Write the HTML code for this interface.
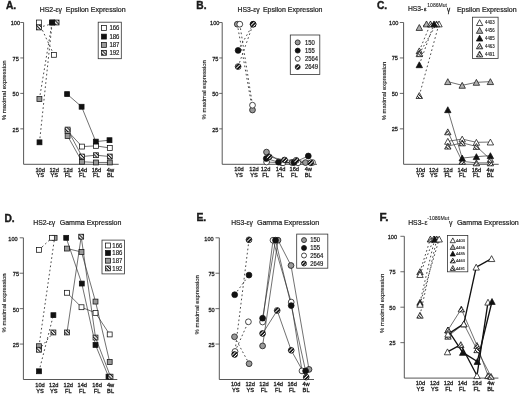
<!DOCTYPE html>
<html><head><meta charset="utf-8"><style>
html,body{margin:0;padding:0;background:#fff;}
body{width:520px;height:394px;overflow:hidden;}
svg{display:block;font-family:"Liberation Sans", sans-serif;filter:grayscale(1) blur(0.3px);}
</style></head><body>
<svg width="520" height="394" viewBox="0 0 520 394">
<defs>
<pattern id="hs" patternUnits="userSpaceOnUse" width="2.4" height="2.4" patternTransform="rotate(-45)">
<rect width="2.4" height="2.4" fill="#fff"/><rect width="1.05" height="2.4" fill="#111"/></pattern>
<pattern id="hc" patternUnits="userSpaceOnUse" width="2.5" height="2.5" patternTransform="rotate(45)">
<rect width="2.5" height="2.5" fill="#111"/><rect width="0.85" height="2.5" fill="#fff"/></pattern>
<pattern id="ht" patternUnits="userSpaceOnUse" width="2.2" height="2.2" patternTransform="rotate(45)">
<rect width="2.2" height="2.2" fill="#fff"/><rect width="0.9" height="2.2" fill="#222"/></pattern>
<pattern id="ht2" patternUnits="userSpaceOnUse" width="2.2" height="2.2" patternTransform="rotate(-45)">
<rect width="2.2" height="2.2" fill="#fff"/><rect width="0.9" height="2.2" fill="#222"/></pattern>
</defs>
<rect width="520" height="394" fill="#fff"/>
<text x="6.00" y="8.80" font-size="10" text-anchor="start" fill="#1a1a1a" stroke="#1a1a1a" stroke-width="0.4" font-weight="bold" textLength="10.20" lengthAdjust="spacingAndGlyphs">A.</text>
<text x="39.80" y="11.60" font-size="7" text-anchor="start" fill="#1a1a1a" stroke="#1a1a1a" stroke-width="0.2" textLength="22.20" lengthAdjust="spacingAndGlyphs">HS2-εγ</text>
<text x="65.70" y="11.60" font-size="7" text-anchor="start" fill="#1a1a1a" stroke="#1a1a1a" stroke-width="0.2" textLength="59.90" lengthAdjust="spacingAndGlyphs">Epsilon Expression</text>
<line x1="23.60" y1="22.50" x2="23.60" y2="164.30" stroke="#444" stroke-width="0.9"/>
<line x1="23.60" y1="164.30" x2="118.70" y2="164.30" stroke="#444" stroke-width="0.9"/>
<line x1="20.30" y1="22.50" x2="23.60" y2="22.50" stroke="#444" stroke-width="0.8"/>
<text x="20.10" y="25.48" font-size="6.16" text-anchor="end" fill="#1a1a1a" stroke="#1a1a1a" stroke-width="0.28" textLength="9.34" lengthAdjust="spacingAndGlyphs">100</text>
<line x1="20.30" y1="57.95" x2="23.60" y2="57.95" stroke="#444" stroke-width="0.8"/>
<text x="18.80" y="60.93" font-size="6.16" text-anchor="end" fill="#1a1a1a" stroke="#1a1a1a" stroke-width="0.28" textLength="6.23" lengthAdjust="spacingAndGlyphs">75</text>
<line x1="20.30" y1="93.40" x2="23.60" y2="93.40" stroke="#444" stroke-width="0.8"/>
<text x="18.80" y="96.38" font-size="6.16" text-anchor="end" fill="#1a1a1a" stroke="#1a1a1a" stroke-width="0.28" textLength="6.23" lengthAdjust="spacingAndGlyphs">50</text>
<line x1="20.30" y1="128.85" x2="23.60" y2="128.85" stroke="#444" stroke-width="0.8"/>
<text x="18.80" y="131.83" font-size="6.16" text-anchor="end" fill="#1a1a1a" stroke="#1a1a1a" stroke-width="0.28" textLength="6.23" lengthAdjust="spacingAndGlyphs">25</text>
<text x="0" y="0" font-size="6.1" stroke-width="0.15" stroke="#222" fill="#222" text-anchor="middle" textLength="60" lengthAdjust="spacingAndGlyphs" transform="translate(6.00,90.30) rotate(-90)">% maximal expression</text>
<text x="40.20" y="171.50" font-size="5.7" text-anchor="middle" fill="#1a1a1a" stroke="#1a1a1a" stroke-width="0.28">10d</text>
<text x="40.20" y="177.40" font-size="5.7" text-anchor="middle" fill="#1a1a1a" stroke="#1a1a1a" stroke-width="0.28">YS</text>
<text x="54.20" y="171.50" font-size="5.7" text-anchor="middle" fill="#1a1a1a" stroke="#1a1a1a" stroke-width="0.28">12d</text>
<text x="54.20" y="177.40" font-size="5.7" text-anchor="middle" fill="#1a1a1a" stroke="#1a1a1a" stroke-width="0.28">YS</text>
<text x="68.00" y="171.50" font-size="5.7" text-anchor="middle" fill="#1a1a1a" stroke="#1a1a1a" stroke-width="0.28">12d</text>
<text x="68.00" y="177.40" font-size="5.7" text-anchor="middle" fill="#1a1a1a" stroke="#1a1a1a" stroke-width="0.28">FL</text>
<text x="82.40" y="171.50" font-size="5.7" text-anchor="middle" fill="#1a1a1a" stroke="#1a1a1a" stroke-width="0.28">14d</text>
<text x="82.40" y="177.40" font-size="5.7" text-anchor="middle" fill="#1a1a1a" stroke="#1a1a1a" stroke-width="0.28">FL</text>
<text x="96.40" y="171.50" font-size="5.7" text-anchor="middle" fill="#1a1a1a" stroke="#1a1a1a" stroke-width="0.28">16d</text>
<text x="96.40" y="177.40" font-size="5.7" text-anchor="middle" fill="#1a1a1a" stroke="#1a1a1a" stroke-width="0.28">FL</text>
<text x="110.40" y="171.50" font-size="5.7" text-anchor="middle" fill="#1a1a1a" stroke="#1a1a1a" stroke-width="0.28">4w</text>
<text x="110.40" y="177.40" font-size="5.7" text-anchor="middle" fill="#1a1a1a" stroke="#1a1a1a" stroke-width="0.28">BL</text>
<line x1="39.40" y1="99.07" x2="52.10" y2="22.50" stroke="#4a4a4a" stroke-width="1.0" stroke-dasharray="1.7,2.5"/>
<line x1="38.90" y1="22.50" x2="53.90" y2="54.83" stroke="#4a4a4a" stroke-width="1.0" stroke-dasharray="1.7,2.5"/>
<line x1="39.00" y1="27.46" x2="56.60" y2="22.50" stroke="#4a4a4a" stroke-width="1.0" stroke-dasharray="1.7,2.5"/>
<line x1="39.50" y1="142.32" x2="52.20" y2="22.50" stroke="#4a4a4a" stroke-width="1.0" stroke-dasharray="1.7,2.5"/>
<polyline points="67.60,135.94 82.00,161.75 96.00,162.46 109.80,162.46" fill="none" stroke="#333" stroke-width="0.7"/>
<polyline points="67.60,130.98 82.00,146.58 96.00,145.87 109.80,147.99" fill="none" stroke="#333" stroke-width="0.7"/>
<polyline points="67.60,129.56 82.00,156.50 96.00,155.22 109.80,156.50" fill="none" stroke="#333" stroke-width="0.7"/>
<polyline points="67.10,94.11 81.60,106.73 95.80,141.61 109.50,140.19" fill="none" stroke="#333" stroke-width="0.7"/>
<rect x="36.95" y="96.62" width="4.9" height="4.9" fill="#9a9a9a" stroke="#111" stroke-width="0.75"/>
<rect x="49.65" y="20.05" width="4.9" height="4.9" fill="#9a9a9a" stroke="#111" stroke-width="0.75"/>
<rect x="65.15" y="133.49" width="4.9" height="4.9" fill="#9a9a9a" stroke="#111" stroke-width="0.75"/>
<rect x="79.55" y="159.30" width="4.9" height="4.9" fill="#9a9a9a" stroke="#111" stroke-width="0.75"/>
<rect x="93.55" y="160.01" width="4.9" height="4.9" fill="#9a9a9a" stroke="#111" stroke-width="0.75"/>
<rect x="107.35" y="160.01" width="4.9" height="4.9" fill="#9a9a9a" stroke="#111" stroke-width="0.75"/>
<rect x="36.45" y="20.05" width="4.9" height="4.9" fill="#fff" stroke="#111" stroke-width="0.75"/>
<rect x="51.45" y="52.38" width="4.9" height="4.9" fill="#fff" stroke="#111" stroke-width="0.75"/>
<rect x="65.15" y="128.53" width="4.9" height="4.9" fill="#fff" stroke="#111" stroke-width="0.75"/>
<rect x="79.55" y="144.13" width="4.9" height="4.9" fill="#fff" stroke="#111" stroke-width="0.75"/>
<rect x="93.55" y="143.42" width="4.9" height="4.9" fill="#fff" stroke="#111" stroke-width="0.75"/>
<rect x="107.35" y="145.54" width="4.9" height="4.9" fill="#fff" stroke="#111" stroke-width="0.75"/>
<rect x="36.55" y="25.01" width="4.9" height="4.9" fill="url(#hs)" stroke="#111" stroke-width="0.75"/>
<rect x="54.15" y="20.05" width="4.9" height="4.9" fill="url(#hs)" stroke="#111" stroke-width="0.75"/>
<rect x="65.15" y="127.11" width="4.9" height="4.9" fill="url(#hs)" stroke="#111" stroke-width="0.75"/>
<rect x="79.55" y="154.05" width="4.9" height="4.9" fill="url(#hs)" stroke="#111" stroke-width="0.75"/>
<rect x="93.55" y="152.77" width="4.9" height="4.9" fill="url(#hs)" stroke="#111" stroke-width="0.75"/>
<rect x="107.35" y="154.05" width="4.9" height="4.9" fill="url(#hs)" stroke="#111" stroke-width="0.75"/>
<rect x="37.05" y="139.87" width="4.9" height="4.9" fill="#111" stroke="#111" stroke-width="0.75"/>
<rect x="49.75" y="20.05" width="4.9" height="4.9" fill="#111" stroke="#111" stroke-width="0.75"/>
<rect x="64.65" y="91.66" width="4.9" height="4.9" fill="#111" stroke="#111" stroke-width="0.75"/>
<rect x="79.15" y="104.28" width="4.9" height="4.9" fill="#111" stroke="#111" stroke-width="0.75"/>
<rect x="93.35" y="139.16" width="4.9" height="4.9" fill="#111" stroke="#111" stroke-width="0.75"/>
<rect x="107.05" y="137.74" width="4.9" height="4.9" fill="#111" stroke="#111" stroke-width="0.75"/>
<rect x="98.20" y="22.20" width="23.10" height="36.50" fill="#fff" stroke="#333" stroke-width="0.8"/>
<rect x="101.45" y="25.55" width="4.9" height="4.9" fill="#fff" stroke="#111" stroke-width="0.75"/>
<text x="109.40" y="30.29" font-size="6.48" text-anchor="start" fill="#1a1a1a" stroke="#1a1a1a" stroke-width="0.18" textLength="10.01" lengthAdjust="spacingAndGlyphs">166</text>
<rect x="101.45" y="34.15" width="4.9" height="4.9" fill="#111" stroke="#111" stroke-width="0.75"/>
<text x="109.40" y="38.89" font-size="6.48" text-anchor="start" fill="#1a1a1a" stroke="#1a1a1a" stroke-width="0.18" textLength="10.01" lengthAdjust="spacingAndGlyphs">186</text>
<rect x="101.45" y="42.45" width="4.9" height="4.9" fill="#9a9a9a" stroke="#111" stroke-width="0.75"/>
<text x="109.40" y="47.19" font-size="6.48" text-anchor="start" fill="#1a1a1a" stroke="#1a1a1a" stroke-width="0.18" textLength="10.01" lengthAdjust="spacingAndGlyphs">187</text>
<rect x="101.45" y="50.35" width="4.9" height="4.9" fill="url(#hs)" stroke="#111" stroke-width="0.75"/>
<text x="109.40" y="55.09" font-size="6.48" text-anchor="start" fill="#1a1a1a" stroke="#1a1a1a" stroke-width="0.18" textLength="10.01" lengthAdjust="spacingAndGlyphs">192</text>
<text x="196.30" y="8.80" font-size="10" text-anchor="start" fill="#1a1a1a" stroke="#1a1a1a" stroke-width="0.4" font-weight="bold" textLength="10.20" lengthAdjust="spacingAndGlyphs">B.</text>
<text x="237.60" y="11.60" font-size="7" text-anchor="start" fill="#1a1a1a" stroke="#1a1a1a" stroke-width="0.2" textLength="22.00" lengthAdjust="spacingAndGlyphs">HS3-εγ</text>
<text x="262.90" y="11.60" font-size="7" text-anchor="start" fill="#1a1a1a" stroke="#1a1a1a" stroke-width="0.2" textLength="59.60" lengthAdjust="spacingAndGlyphs">Epsilon Expression</text>
<line x1="222.20" y1="22.50" x2="222.20" y2="164.30" stroke="#444" stroke-width="0.9"/>
<line x1="222.20" y1="164.30" x2="317.00" y2="164.30" stroke="#444" stroke-width="0.9"/>
<line x1="219.20" y1="22.50" x2="222.20" y2="22.50" stroke="#444" stroke-width="0.8"/>
<text x="219.40" y="25.48" font-size="6.16" text-anchor="end" fill="#1a1a1a" stroke="#1a1a1a" stroke-width="0.28" textLength="9.34" lengthAdjust="spacingAndGlyphs">100</text>
<line x1="219.20" y1="57.95" x2="222.20" y2="57.95" stroke="#444" stroke-width="0.8"/>
<text x="218.40" y="60.93" font-size="6.16" text-anchor="end" fill="#1a1a1a" stroke="#1a1a1a" stroke-width="0.28" textLength="6.23" lengthAdjust="spacingAndGlyphs">75</text>
<line x1="219.20" y1="93.40" x2="222.20" y2="93.40" stroke="#444" stroke-width="0.8"/>
<text x="218.40" y="96.38" font-size="6.16" text-anchor="end" fill="#1a1a1a" stroke="#1a1a1a" stroke-width="0.28" textLength="6.23" lengthAdjust="spacingAndGlyphs">50</text>
<line x1="219.20" y1="128.85" x2="222.20" y2="128.85" stroke="#444" stroke-width="0.8"/>
<text x="218.40" y="131.83" font-size="6.16" text-anchor="end" fill="#1a1a1a" stroke="#1a1a1a" stroke-width="0.28" textLength="6.23" lengthAdjust="spacingAndGlyphs">25</text>
<text x="0" y="0" font-size="6.1" stroke-width="0.15" stroke="#222" fill="#222" text-anchor="middle" textLength="59.2" lengthAdjust="spacingAndGlyphs" transform="translate(205.80,89.80) rotate(-90)">% maximal expression</text>
<text x="239.00" y="171.00" font-size="5.7" text-anchor="middle" fill="#1a1a1a" stroke="#1a1a1a" stroke-width="0.28">10d</text>
<text x="239.00" y="176.90" font-size="5.7" text-anchor="middle" fill="#1a1a1a" stroke="#1a1a1a" stroke-width="0.28">YS</text>
<text x="254.00" y="171.00" font-size="5.7" text-anchor="middle" fill="#1a1a1a" stroke="#1a1a1a" stroke-width="0.28">12d</text>
<text x="254.00" y="176.90" font-size="5.7" text-anchor="middle" fill="#1a1a1a" stroke="#1a1a1a" stroke-width="0.28">YS</text>
<text x="265.60" y="171.00" font-size="5.7" text-anchor="middle" fill="#1a1a1a" stroke="#1a1a1a" stroke-width="0.28">12d</text>
<text x="265.60" y="176.90" font-size="5.7" text-anchor="middle" fill="#1a1a1a" stroke="#1a1a1a" stroke-width="0.28">FL</text>
<text x="280.60" y="171.00" font-size="5.7" text-anchor="middle" fill="#1a1a1a" stroke="#1a1a1a" stroke-width="0.28">14d</text>
<text x="280.60" y="176.90" font-size="5.7" text-anchor="middle" fill="#1a1a1a" stroke="#1a1a1a" stroke-width="0.28">FL</text>
<text x="294.30" y="171.00" font-size="5.7" text-anchor="middle" fill="#1a1a1a" stroke="#1a1a1a" stroke-width="0.28">16d</text>
<text x="294.30" y="176.90" font-size="5.7" text-anchor="middle" fill="#1a1a1a" stroke="#1a1a1a" stroke-width="0.28">FL</text>
<text x="308.30" y="171.00" font-size="5.7" text-anchor="middle" fill="#1a1a1a" stroke="#1a1a1a" stroke-width="0.28">4w</text>
<text x="308.30" y="176.90" font-size="5.7" text-anchor="middle" fill="#1a1a1a" stroke="#1a1a1a" stroke-width="0.28">BL</text>
<line x1="237.30" y1="24.20" x2="252.50" y2="110.00" stroke="#4a4a4a" stroke-width="1.0" stroke-dasharray="1.7,2.5"/>
<line x1="239.80" y1="24.20" x2="252.50" y2="105.20" stroke="#4a4a4a" stroke-width="1.0" stroke-dasharray="1.7,2.5"/>
<line x1="238.10" y1="50.40" x2="253.10" y2="24.20" stroke="#4a4a4a" stroke-width="1.0" stroke-dasharray="1.7,2.5"/>
<line x1="238.10" y1="66.60" x2="253.10" y2="24.20" stroke="#4a4a4a" stroke-width="1.0" stroke-dasharray="1.7,2.5"/>
<polyline points="266.50,152.10 281.50,162.60 292.00,162.50 305.50,162.60" fill="none" stroke="#333" stroke-width="0.7"/>
<polyline points="266.60,162.00 283.00,162.80 298.00,162.80 312.50,162.50" fill="none" stroke="#333" stroke-width="0.7"/>
<polyline points="266.30,158.50 278.50,162.20 294.00,162.50 308.30,156.00" fill="none" stroke="#333" stroke-width="0.7"/>
<polyline points="269.10,156.80 284.60,160.00 296.20,160.30 310.80,162.80" fill="none" stroke="#333" stroke-width="0.7"/>
<circle cx="237.30" cy="24.20" r="2.90" fill="#9a9a9a" stroke="#111" stroke-width="0.75"/>
<circle cx="252.50" cy="110.00" r="2.90" fill="#9a9a9a" stroke="#111" stroke-width="0.75"/>
<circle cx="266.50" cy="152.10" r="2.90" fill="#9a9a9a" stroke="#111" stroke-width="0.75"/>
<circle cx="281.50" cy="162.60" r="2.90" fill="#9a9a9a" stroke="#111" stroke-width="0.75"/>
<circle cx="292.00" cy="162.50" r="2.90" fill="#9a9a9a" stroke="#111" stroke-width="0.75"/>
<circle cx="305.50" cy="162.60" r="2.90" fill="#9a9a9a" stroke="#111" stroke-width="0.75"/>
<circle cx="239.80" cy="24.20" r="2.90" fill="#fff" stroke="#111" stroke-width="0.75"/>
<circle cx="252.50" cy="105.20" r="2.90" fill="#fff" stroke="#111" stroke-width="0.75"/>
<circle cx="266.60" cy="162.00" r="2.90" fill="#fff" stroke="#111" stroke-width="0.75"/>
<circle cx="283.00" cy="162.80" r="2.90" fill="#fff" stroke="#111" stroke-width="0.75"/>
<circle cx="298.00" cy="162.80" r="2.90" fill="#fff" stroke="#111" stroke-width="0.75"/>
<circle cx="312.50" cy="162.50" r="2.90" fill="#fff" stroke="#111" stroke-width="0.75"/>
<circle cx="238.10" cy="50.40" r="2.90" fill="#111" stroke="#111" stroke-width="0.75"/>
<circle cx="253.10" cy="24.20" r="2.90" fill="#111" stroke="#111" stroke-width="0.75"/>
<circle cx="266.30" cy="158.50" r="2.90" fill="#111" stroke="#111" stroke-width="0.75"/>
<circle cx="278.50" cy="162.20" r="2.90" fill="#111" stroke="#111" stroke-width="0.75"/>
<circle cx="294.00" cy="162.50" r="2.90" fill="#111" stroke="#111" stroke-width="0.75"/>
<circle cx="308.30" cy="156.00" r="2.90" fill="#111" stroke="#111" stroke-width="0.75"/>
<circle cx="238.10" cy="66.60" r="2.90" fill="url(#hc)" stroke="#111" stroke-width="0.75"/>
<circle cx="253.10" cy="24.20" r="2.90" fill="url(#hc)" stroke="#111" stroke-width="0.75"/>
<circle cx="269.10" cy="156.80" r="2.90" fill="url(#hc)" stroke="#111" stroke-width="0.75"/>
<circle cx="284.60" cy="160.00" r="2.90" fill="url(#hc)" stroke="#111" stroke-width="0.75"/>
<circle cx="296.20" cy="160.30" r="2.90" fill="url(#hc)" stroke="#111" stroke-width="0.75"/>
<circle cx="310.80" cy="162.80" r="2.90" fill="url(#hc)" stroke="#111" stroke-width="0.75"/>
<rect x="290.30" y="35.00" width="29.50" height="39.50" fill="#fff" stroke="#333" stroke-width="0.8"/>
<circle cx="297.70" cy="42.40" r="2.50" fill="#9a9a9a" stroke="#111" stroke-width="0.75"/>
<text x="305.00" y="44.66" font-size="6.372000000000001" text-anchor="start" fill="#1a1a1a" stroke="#1a1a1a" stroke-width="0.18" textLength="9.84" lengthAdjust="spacingAndGlyphs">150</text>
<circle cx="297.70" cy="50.60" r="2.50" fill="#111" stroke="#111" stroke-width="0.75"/>
<text x="305.00" y="52.86" font-size="6.372000000000001" text-anchor="start" fill="#1a1a1a" stroke="#1a1a1a" stroke-width="0.18" textLength="9.84" lengthAdjust="spacingAndGlyphs">155</text>
<circle cx="297.70" cy="58.80" r="2.50" fill="#fff" stroke="#111" stroke-width="0.75"/>
<text x="305.00" y="61.06" font-size="6.372000000000001" text-anchor="start" fill="#1a1a1a" stroke="#1a1a1a" stroke-width="0.18" textLength="13.12" lengthAdjust="spacingAndGlyphs">2564</text>
<circle cx="297.70" cy="67.00" r="2.50" fill="url(#hc)" stroke="#111" stroke-width="0.75"/>
<text x="305.00" y="69.26" font-size="6.372000000000001" text-anchor="start" fill="#1a1a1a" stroke="#1a1a1a" stroke-width="0.18" textLength="13.12" lengthAdjust="spacingAndGlyphs">2649</text>
<text x="377.00" y="8.80" font-size="10" text-anchor="start" fill="#1a1a1a" stroke="#1a1a1a" stroke-width="0.4" font-weight="bold" textLength="10.20" lengthAdjust="spacingAndGlyphs">C.</text>
<text x="407.90" y="11.00" font-size="7" text-anchor="start" fill="#1a1a1a" stroke="#1a1a1a" stroke-width="0.2" textLength="15.30" lengthAdjust="spacingAndGlyphs">HS3-</text>
<text x="423.90" y="11.00" font-size="6.2" text-anchor="start" fill="#1a1a1a" stroke="#1a1a1a" stroke-width="0.28" textLength="2.50" lengthAdjust="spacingAndGlyphs">ε</text>
<text x="427.30" y="7.00" font-size="4.8" text-anchor="start" fill="#1a1a1a" stroke="#1a1a1a" stroke-width="0.08" textLength="19.60" lengthAdjust="spacingAndGlyphs">1086Mut</text>
<text x="447.00" y="11.60" font-size="6.3" text-anchor="start" fill="#1a1a1a" stroke="#1a1a1a" stroke-width="0.28">γ</text>
<text x="456.90" y="11.50" font-size="7" text-anchor="start" fill="#1a1a1a" stroke="#1a1a1a" stroke-width="0.2" textLength="59.80" lengthAdjust="spacingAndGlyphs">Epsilon Expression</text>
<line x1="403.60" y1="22.50" x2="403.60" y2="164.30" stroke="#444" stroke-width="0.9"/>
<line x1="403.60" y1="164.30" x2="498.70" y2="164.30" stroke="#444" stroke-width="0.9"/>
<line x1="399.80" y1="22.50" x2="403.60" y2="22.50" stroke="#444" stroke-width="0.8"/>
<text x="398.40" y="24.88" font-size="6.16" text-anchor="end" fill="#1a1a1a" stroke="#1a1a1a" stroke-width="0.28" textLength="9.34" lengthAdjust="spacingAndGlyphs">100</text>
<line x1="399.80" y1="57.95" x2="403.60" y2="57.95" stroke="#444" stroke-width="0.8"/>
<text x="397.90" y="60.33" font-size="6.16" text-anchor="end" fill="#1a1a1a" stroke="#1a1a1a" stroke-width="0.28" textLength="6.23" lengthAdjust="spacingAndGlyphs">75</text>
<line x1="399.80" y1="93.40" x2="403.60" y2="93.40" stroke="#444" stroke-width="0.8"/>
<text x="397.90" y="95.78" font-size="6.16" text-anchor="end" fill="#1a1a1a" stroke="#1a1a1a" stroke-width="0.28" textLength="6.23" lengthAdjust="spacingAndGlyphs">50</text>
<line x1="399.80" y1="128.85" x2="403.60" y2="128.85" stroke="#444" stroke-width="0.8"/>
<text x="397.90" y="131.23" font-size="6.16" text-anchor="end" fill="#1a1a1a" stroke="#1a1a1a" stroke-width="0.28" textLength="6.23" lengthAdjust="spacingAndGlyphs">25</text>
<text x="0" y="0" font-size="6.1" stroke-width="0.15" stroke="#222" fill="#222" text-anchor="middle" textLength="58.7" lengthAdjust="spacingAndGlyphs" transform="translate(385.50,91.00) rotate(-90)">% maximal expression</text>
<text x="420.40" y="171.50" font-size="5.7" text-anchor="middle" fill="#1a1a1a" stroke="#1a1a1a" stroke-width="0.28">10d</text>
<text x="420.40" y="177.40" font-size="5.7" text-anchor="middle" fill="#1a1a1a" stroke="#1a1a1a" stroke-width="0.28">YS</text>
<text x="433.70" y="171.50" font-size="5.7" text-anchor="middle" fill="#1a1a1a" stroke="#1a1a1a" stroke-width="0.28">12d</text>
<text x="433.70" y="177.40" font-size="5.7" text-anchor="middle" fill="#1a1a1a" stroke="#1a1a1a" stroke-width="0.28">YS</text>
<text x="447.90" y="171.50" font-size="5.7" text-anchor="middle" fill="#1a1a1a" stroke="#1a1a1a" stroke-width="0.28">12d</text>
<text x="447.90" y="177.40" font-size="5.7" text-anchor="middle" fill="#1a1a1a" stroke="#1a1a1a" stroke-width="0.28">FL</text>
<text x="462.30" y="171.50" font-size="5.7" text-anchor="middle" fill="#1a1a1a" stroke="#1a1a1a" stroke-width="0.28">14d</text>
<text x="462.30" y="177.40" font-size="5.7" text-anchor="middle" fill="#1a1a1a" stroke="#1a1a1a" stroke-width="0.28">FL</text>
<text x="476.40" y="171.50" font-size="5.7" text-anchor="middle" fill="#1a1a1a" stroke="#1a1a1a" stroke-width="0.28">16d</text>
<text x="476.40" y="177.40" font-size="5.7" text-anchor="middle" fill="#1a1a1a" stroke="#1a1a1a" stroke-width="0.28">FL</text>
<text x="490.20" y="171.50" font-size="5.7" text-anchor="middle" fill="#1a1a1a" stroke="#1a1a1a" stroke-width="0.28">4w</text>
<text x="490.20" y="177.40" font-size="5.7" text-anchor="middle" fill="#1a1a1a" stroke="#1a1a1a" stroke-width="0.28">BL</text>
<line x1="419.30" y1="27.46" x2="426.50" y2="23.92" stroke="#4a4a4a" stroke-width="1.0" stroke-dasharray="1.7,2.5"/>
<line x1="419.30" y1="95.53" x2="439.00" y2="23.92" stroke="#4a4a4a" stroke-width="1.0" stroke-dasharray="1.7,2.5"/>
<line x1="419.30" y1="50.86" x2="430.50" y2="23.92" stroke="#4a4a4a" stroke-width="1.0" stroke-dasharray="1.7,2.5"/>
<line x1="419.30" y1="53.70" x2="436.50" y2="23.92" stroke="#4a4a4a" stroke-width="1.0" stroke-dasharray="1.7,2.5"/>
<line x1="419.30" y1="64.76" x2="434.00" y2="23.92" stroke="#4a4a4a" stroke-width="1.0" stroke-dasharray="1.7,2.5"/>
<polyline points="447.80,81.63 462.20,85.32 476.40,82.34 490.40,81.63" fill="none" stroke="#333" stroke-width="0.7"/>
<polyline points="447.80,141.33 462.20,139.06 476.40,142.32 490.40,142.04" fill="none" stroke="#333" stroke-width="0.7"/>
<polyline points="447.80,131.83 462.20,161.32 476.40,162.88 490.40,162.88" fill="none" stroke="#333" stroke-width="0.7"/>
<polyline points="447.80,146.15 462.20,142.89 476.40,146.43 490.40,159.34" fill="none" stroke="#333" stroke-width="0.7"/>
<polyline points="447.80,109.71 462.20,158.06 476.40,156.64 490.40,155.65" fill="none" stroke="#333" stroke-width="0.7"/>
<polygon points="419.30,24.52 422.50,30.41 416.10,30.41" fill="#b0b0b0" stroke="#111" stroke-width="0.75" stroke-linejoin="miter"/>
<polygon points="426.50,20.97 429.70,26.86 423.30,26.86" fill="#b0b0b0" stroke="#111" stroke-width="0.75" stroke-linejoin="miter"/>
<polygon points="447.80,78.69 451.00,84.57 444.60,84.57" fill="#b0b0b0" stroke="#111" stroke-width="0.75" stroke-linejoin="miter"/>
<polygon points="462.20,82.37 465.40,88.26 459.00,88.26" fill="#b0b0b0" stroke="#111" stroke-width="0.75" stroke-linejoin="miter"/>
<polygon points="476.40,79.40 479.60,85.28 473.20,85.28" fill="#b0b0b0" stroke="#111" stroke-width="0.75" stroke-linejoin="miter"/>
<polygon points="490.40,78.69 493.60,84.57 487.20,84.57" fill="#b0b0b0" stroke="#111" stroke-width="0.75" stroke-linejoin="miter"/>
<polygon points="419.30,92.58 422.50,98.47 416.10,98.47" fill="url(#ht2)" stroke="#111" stroke-width="0.75" stroke-linejoin="miter"/>
<polygon points="439.00,20.97 442.20,26.86 435.80,26.86" fill="#fff" stroke="#111" stroke-width="0.75" stroke-linejoin="miter"/>
<polygon points="447.80,138.38 451.00,144.27 444.60,144.27" fill="#fff" stroke="#111" stroke-width="0.75" stroke-linejoin="miter"/>
<polygon points="462.20,136.12 465.40,142.00 459.00,142.00" fill="#fff" stroke="#111" stroke-width="0.75" stroke-linejoin="miter"/>
<polygon points="476.40,139.38 479.60,145.27 473.20,145.27" fill="#fff" stroke="#111" stroke-width="0.75" stroke-linejoin="miter"/>
<polygon points="490.40,139.09 493.60,144.98 487.20,144.98" fill="#fff" stroke="#111" stroke-width="0.75" stroke-linejoin="miter"/>
<polygon points="419.30,47.92 422.50,53.80 416.10,53.80" fill="url(#ht)" stroke="#111" stroke-width="0.75" stroke-linejoin="miter"/>
<polygon points="430.50,20.97 433.70,26.86 427.30,26.86" fill="url(#ht)" stroke="#111" stroke-width="0.75" stroke-linejoin="miter"/>
<polygon points="447.80,128.88 451.00,134.77 444.60,134.77" fill="url(#ht)" stroke="#111" stroke-width="0.75" stroke-linejoin="miter"/>
<polygon points="462.20,158.38 465.40,164.27 459.00,164.27" fill="url(#ht)" stroke="#111" stroke-width="0.75" stroke-linejoin="miter"/>
<polygon points="476.40,159.94 479.60,165.83 473.20,165.83" fill="url(#ht)" stroke="#111" stroke-width="0.75" stroke-linejoin="miter"/>
<polygon points="490.40,159.94 493.60,165.83 487.20,165.83" fill="url(#ht)" stroke="#111" stroke-width="0.75" stroke-linejoin="miter"/>
<polygon points="419.30,50.75 422.50,56.64 416.10,56.64" fill="url(#ht2)" stroke="#111" stroke-width="0.75" stroke-linejoin="miter"/>
<polygon points="436.50,20.97 439.70,26.86 433.30,26.86" fill="url(#ht2)" stroke="#111" stroke-width="0.75" stroke-linejoin="miter"/>
<polygon points="447.80,143.21 451.00,149.09 444.60,149.09" fill="url(#ht2)" stroke="#111" stroke-width="0.75" stroke-linejoin="miter"/>
<polygon points="462.20,139.94 465.40,145.83 459.00,145.83" fill="url(#ht2)" stroke="#111" stroke-width="0.75" stroke-linejoin="miter"/>
<polygon points="476.40,143.49 479.60,149.38 473.20,149.38" fill="url(#ht2)" stroke="#111" stroke-width="0.75" stroke-linejoin="miter"/>
<polygon points="490.40,156.39 493.60,162.28 487.20,162.28" fill="url(#ht2)" stroke="#111" stroke-width="0.75" stroke-linejoin="miter"/>
<polygon points="419.30,61.81 422.50,67.70 416.10,67.70" fill="#111" stroke="#111" stroke-width="0.75" stroke-linejoin="miter"/>
<polygon points="434.00,20.97 437.20,26.86 430.80,26.86" fill="#111" stroke="#111" stroke-width="0.75" stroke-linejoin="miter"/>
<polygon points="447.80,106.76 451.00,112.65 444.60,112.65" fill="#111" stroke="#111" stroke-width="0.75" stroke-linejoin="miter"/>
<polygon points="462.20,155.12 465.40,161.00 459.00,161.00" fill="#111" stroke="#111" stroke-width="0.75" stroke-linejoin="miter"/>
<polygon points="476.40,153.70 479.60,159.59 473.20,159.59" fill="#111" stroke="#111" stroke-width="0.75" stroke-linejoin="miter"/>
<polygon points="490.40,152.71 493.60,158.59 487.20,158.59" fill="#111" stroke="#111" stroke-width="0.75" stroke-linejoin="miter"/>
<rect x="472.40" y="17.20" width="25.70" height="41.20" fill="#fff" stroke="#333" stroke-width="0.8"/>
<polygon points="479.60,19.66 482.80,25.54 476.40,25.54" fill="#fff" stroke="#111" stroke-width="0.75" stroke-linejoin="miter"/>
<text x="485.10" y="24.24" font-size="4.644" text-anchor="start" fill="#1a1a1a" stroke="#1a1a1a" stroke-width="0.12" textLength="9.56" lengthAdjust="spacingAndGlyphs">4403</text>
<polygon points="479.60,27.46 482.80,33.34 476.40,33.34" fill="#b0b0b0" stroke="#111" stroke-width="0.75" stroke-linejoin="miter"/>
<text x="485.10" y="32.04" font-size="4.644" text-anchor="start" fill="#1a1a1a" stroke="#1a1a1a" stroke-width="0.12" textLength="9.56" lengthAdjust="spacingAndGlyphs">4456</text>
<polygon points="479.60,35.16 482.80,41.04 476.40,41.04" fill="#111" stroke="#111" stroke-width="0.75" stroke-linejoin="miter"/>
<text x="485.10" y="39.74" font-size="4.644" text-anchor="start" fill="#1a1a1a" stroke="#1a1a1a" stroke-width="0.12" textLength="9.56" lengthAdjust="spacingAndGlyphs">4485</text>
<polygon points="479.60,42.96 482.80,48.84 476.40,48.84" fill="url(#ht)" stroke="#111" stroke-width="0.75" stroke-linejoin="miter"/>
<text x="485.10" y="47.54" font-size="4.644" text-anchor="start" fill="#1a1a1a" stroke="#1a1a1a" stroke-width="0.12" textLength="9.56" lengthAdjust="spacingAndGlyphs">4463</text>
<polygon points="479.60,51.06 482.80,56.94 476.40,56.94" fill="url(#ht2)" stroke="#111" stroke-width="0.75" stroke-linejoin="miter"/>
<text x="485.10" y="55.64" font-size="4.644" text-anchor="start" fill="#1a1a1a" stroke="#1a1a1a" stroke-width="0.12" textLength="9.56" lengthAdjust="spacingAndGlyphs">4491</text>
<text x="4.40" y="221.90" font-size="10" text-anchor="start" fill="#1a1a1a" stroke="#1a1a1a" stroke-width="0.4" font-weight="bold" textLength="10.20" lengthAdjust="spacingAndGlyphs">D.</text>
<text x="33.20" y="224.90" font-size="7" text-anchor="start" fill="#1a1a1a" stroke="#1a1a1a" stroke-width="0.2" textLength="22.10" lengthAdjust="spacingAndGlyphs">HS2-εγ</text>
<text x="59.70" y="224.90" font-size="7" text-anchor="start" fill="#1a1a1a" stroke="#1a1a1a" stroke-width="0.2" textLength="61.70" lengthAdjust="spacingAndGlyphs">Gamma Expression</text>
<line x1="23.40" y1="237.80" x2="23.40" y2="379.50" stroke="#444" stroke-width="0.9"/>
<line x1="23.40" y1="379.50" x2="117.30" y2="379.50" stroke="#444" stroke-width="0.9"/>
<line x1="19.70" y1="237.80" x2="23.40" y2="237.80" stroke="#444" stroke-width="0.8"/>
<text x="17.70" y="240.78" font-size="6.16" text-anchor="end" fill="#1a1a1a" stroke="#1a1a1a" stroke-width="0.28" textLength="9.34" lengthAdjust="spacingAndGlyphs">100</text>
<line x1="19.70" y1="273.23" x2="23.40" y2="273.23" stroke="#444" stroke-width="0.8"/>
<text x="19.00" y="276.21" font-size="6.16" text-anchor="end" fill="#1a1a1a" stroke="#1a1a1a" stroke-width="0.28" textLength="6.23" lengthAdjust="spacingAndGlyphs">75</text>
<line x1="19.70" y1="308.65" x2="23.40" y2="308.65" stroke="#444" stroke-width="0.8"/>
<text x="19.00" y="311.63" font-size="6.16" text-anchor="end" fill="#1a1a1a" stroke="#1a1a1a" stroke-width="0.28" textLength="6.23" lengthAdjust="spacingAndGlyphs">50</text>
<line x1="19.70" y1="344.07" x2="23.40" y2="344.07" stroke="#444" stroke-width="0.8"/>
<text x="19.00" y="347.06" font-size="6.16" text-anchor="end" fill="#1a1a1a" stroke="#1a1a1a" stroke-width="0.28" textLength="6.23" lengthAdjust="spacingAndGlyphs">25</text>
<text x="0" y="0" font-size="6.1" stroke-width="0.15" stroke="#222" fill="#222" text-anchor="middle" textLength="58.9" lengthAdjust="spacingAndGlyphs" transform="translate(5.90,303.00) rotate(-90)">% maximal expression</text>
<text x="40.00" y="386.80" font-size="5.7" text-anchor="middle" fill="#1a1a1a" stroke="#1a1a1a" stroke-width="0.28">10d</text>
<text x="40.00" y="392.70" font-size="5.7" text-anchor="middle" fill="#1a1a1a" stroke="#1a1a1a" stroke-width="0.28">YS</text>
<text x="53.80" y="386.80" font-size="5.7" text-anchor="middle" fill="#1a1a1a" stroke="#1a1a1a" stroke-width="0.28">12d</text>
<text x="53.80" y="392.70" font-size="5.7" text-anchor="middle" fill="#1a1a1a" stroke="#1a1a1a" stroke-width="0.28">YS</text>
<text x="68.30" y="386.80" font-size="5.7" text-anchor="middle" fill="#1a1a1a" stroke="#1a1a1a" stroke-width="0.28">12d</text>
<text x="68.30" y="392.70" font-size="5.7" text-anchor="middle" fill="#1a1a1a" stroke="#1a1a1a" stroke-width="0.28">FL</text>
<text x="82.30" y="386.80" font-size="5.7" text-anchor="middle" fill="#1a1a1a" stroke="#1a1a1a" stroke-width="0.28">14d</text>
<text x="82.30" y="392.70" font-size="5.7" text-anchor="middle" fill="#1a1a1a" stroke="#1a1a1a" stroke-width="0.28">FL</text>
<text x="97.10" y="386.80" font-size="5.7" text-anchor="middle" fill="#1a1a1a" stroke="#1a1a1a" stroke-width="0.28">16d</text>
<text x="97.10" y="392.70" font-size="5.7" text-anchor="middle" fill="#1a1a1a" stroke="#1a1a1a" stroke-width="0.28">FL</text>
<text x="110.60" y="386.80" font-size="5.7" text-anchor="middle" fill="#1a1a1a" stroke="#1a1a1a" stroke-width="0.28">4w</text>
<text x="110.60" y="392.70" font-size="5.7" text-anchor="middle" fill="#1a1a1a" stroke="#1a1a1a" stroke-width="0.28">BL</text>
<line x1="39.00" y1="346.20" x2="54.60" y2="237.80" stroke="#4a4a4a" stroke-width="1.0" stroke-dasharray="1.7,2.5"/>
<line x1="39.00" y1="249.84" x2="51.90" y2="237.80" stroke="#4a4a4a" stroke-width="1.0" stroke-dasharray="1.7,2.5"/>
<line x1="39.00" y1="371.28" x2="53.40" y2="315.17" stroke="#4a4a4a" stroke-width="1.0" stroke-dasharray="1.7,2.5"/>
<line x1="39.00" y1="349.74" x2="53.40" y2="332.46" stroke="#4a4a4a" stroke-width="1.0" stroke-dasharray="1.7,2.5"/>
<polyline points="67.00,248.57 81.50,251.97 95.50,301.56 109.70,362.07" fill="none" stroke="#333" stroke-width="0.7"/>
<polyline points="67.00,292.78 81.50,307.23 95.50,312.90 109.70,334.44" fill="none" stroke="#333" stroke-width="0.7"/>
<polyline points="66.20,237.80 81.80,283.57 95.50,344.93 108.50,376.67" fill="none" stroke="#333" stroke-width="0.7"/>
<polyline points="67.00,332.46 81.20,236.67 95.50,337.56 110.50,376.67" fill="none" stroke="#333" stroke-width="0.7"/>
<rect x="36.55" y="343.75" width="4.9" height="4.9" fill="#9a9a9a" stroke="#111" stroke-width="0.75"/>
<rect x="52.15" y="235.35" width="4.9" height="4.9" fill="#9a9a9a" stroke="#111" stroke-width="0.75"/>
<rect x="64.55" y="246.12" width="4.9" height="4.9" fill="#9a9a9a" stroke="#111" stroke-width="0.75"/>
<rect x="79.05" y="249.52" width="4.9" height="4.9" fill="#9a9a9a" stroke="#111" stroke-width="0.75"/>
<rect x="93.05" y="299.12" width="4.9" height="4.9" fill="#9a9a9a" stroke="#111" stroke-width="0.75"/>
<rect x="107.25" y="359.62" width="4.9" height="4.9" fill="#9a9a9a" stroke="#111" stroke-width="0.75"/>
<rect x="36.55" y="247.39" width="4.9" height="4.9" fill="#fff" stroke="#111" stroke-width="0.75"/>
<rect x="49.45" y="235.35" width="4.9" height="4.9" fill="#fff" stroke="#111" stroke-width="0.75"/>
<rect x="64.55" y="290.33" width="4.9" height="4.9" fill="#fff" stroke="#111" stroke-width="0.75"/>
<rect x="79.05" y="304.78" width="4.9" height="4.9" fill="#fff" stroke="#111" stroke-width="0.75"/>
<rect x="93.05" y="310.45" width="4.9" height="4.9" fill="#fff" stroke="#111" stroke-width="0.75"/>
<rect x="107.25" y="331.99" width="4.9" height="4.9" fill="#fff" stroke="#111" stroke-width="0.75"/>
<rect x="36.55" y="368.83" width="4.9" height="4.9" fill="#111" stroke="#111" stroke-width="0.75"/>
<rect x="50.95" y="312.72" width="4.9" height="4.9" fill="#111" stroke="#111" stroke-width="0.75"/>
<rect x="63.75" y="235.35" width="4.9" height="4.9" fill="#111" stroke="#111" stroke-width="0.75"/>
<rect x="79.35" y="281.12" width="4.9" height="4.9" fill="#111" stroke="#111" stroke-width="0.75"/>
<rect x="93.05" y="342.48" width="4.9" height="4.9" fill="#111" stroke="#111" stroke-width="0.75"/>
<rect x="106.05" y="374.22" width="4.9" height="4.9" fill="#111" stroke="#111" stroke-width="0.75"/>
<rect x="36.55" y="347.29" width="4.9" height="4.9" fill="url(#hs)" stroke="#111" stroke-width="0.75"/>
<rect x="50.95" y="330.01" width="4.9" height="4.9" fill="url(#hs)" stroke="#111" stroke-width="0.75"/>
<rect x="64.55" y="330.01" width="4.9" height="4.9" fill="url(#hs)" stroke="#111" stroke-width="0.75"/>
<rect x="78.75" y="234.22" width="4.9" height="4.9" fill="url(#hs)" stroke="#111" stroke-width="0.75"/>
<rect x="93.05" y="335.11" width="4.9" height="4.9" fill="url(#hs)" stroke="#111" stroke-width="0.75"/>
<rect x="108.05" y="374.22" width="4.9" height="4.9" fill="url(#hs)" stroke="#111" stroke-width="0.75"/>
<rect x="102.00" y="240.10" width="22.50" height="33.80" fill="#fff" stroke="#333" stroke-width="0.8"/>
<rect x="105.55" y="243.05" width="4.9" height="4.9" fill="#fff" stroke="#111" stroke-width="0.75"/>
<text x="112.30" y="247.79" font-size="6.48" text-anchor="start" fill="#1a1a1a" stroke="#1a1a1a" stroke-width="0.18" textLength="10.01" lengthAdjust="spacingAndGlyphs">166</text>
<rect x="105.55" y="250.55" width="4.9" height="4.9" fill="#111" stroke="#111" stroke-width="0.75"/>
<text x="112.30" y="255.29" font-size="6.48" text-anchor="start" fill="#1a1a1a" stroke="#1a1a1a" stroke-width="0.18" textLength="10.01" lengthAdjust="spacingAndGlyphs">186</text>
<rect x="105.55" y="258.25" width="4.9" height="4.9" fill="#9a9a9a" stroke="#111" stroke-width="0.75"/>
<text x="112.30" y="262.99" font-size="6.48" text-anchor="start" fill="#1a1a1a" stroke="#1a1a1a" stroke-width="0.18" textLength="10.01" lengthAdjust="spacingAndGlyphs">187</text>
<rect x="105.55" y="265.95" width="4.9" height="4.9" fill="url(#hs)" stroke="#111" stroke-width="0.75"/>
<text x="112.30" y="270.69" font-size="6.48" text-anchor="start" fill="#1a1a1a" stroke="#1a1a1a" stroke-width="0.18" textLength="10.01" lengthAdjust="spacingAndGlyphs">192</text>
<text x="196.40" y="220.80" font-size="10" text-anchor="start" fill="#1a1a1a" stroke="#1a1a1a" stroke-width="0.4" font-weight="bold" textLength="9.80" lengthAdjust="spacingAndGlyphs">E.</text>
<text x="231.20" y="225.30" font-size="7" text-anchor="start" fill="#1a1a1a" stroke="#1a1a1a" stroke-width="0.2" textLength="21.70" lengthAdjust="spacingAndGlyphs">HS3-εγ</text>
<text x="256.90" y="225.30" font-size="7" text-anchor="start" fill="#1a1a1a" stroke="#1a1a1a" stroke-width="0.2" textLength="62.20" lengthAdjust="spacingAndGlyphs">Gamma Expression</text>
<line x1="219.30" y1="237.80" x2="219.30" y2="379.50" stroke="#444" stroke-width="0.9"/>
<line x1="219.30" y1="379.50" x2="314.00" y2="379.50" stroke="#444" stroke-width="0.9"/>
<line x1="215.50" y1="237.80" x2="219.30" y2="237.80" stroke="#444" stroke-width="0.8"/>
<text x="213.70" y="240.78" font-size="6.16" text-anchor="end" fill="#1a1a1a" stroke="#1a1a1a" stroke-width="0.28" textLength="9.34" lengthAdjust="spacingAndGlyphs">100</text>
<line x1="215.50" y1="273.23" x2="219.30" y2="273.23" stroke="#444" stroke-width="0.8"/>
<text x="214.70" y="276.21" font-size="6.16" text-anchor="end" fill="#1a1a1a" stroke="#1a1a1a" stroke-width="0.28" textLength="6.23" lengthAdjust="spacingAndGlyphs">75</text>
<line x1="215.50" y1="308.65" x2="219.30" y2="308.65" stroke="#444" stroke-width="0.8"/>
<text x="214.70" y="311.63" font-size="6.16" text-anchor="end" fill="#1a1a1a" stroke="#1a1a1a" stroke-width="0.28" textLength="6.23" lengthAdjust="spacingAndGlyphs">50</text>
<line x1="215.50" y1="344.07" x2="219.30" y2="344.07" stroke="#444" stroke-width="0.8"/>
<text x="214.70" y="347.06" font-size="6.16" text-anchor="end" fill="#1a1a1a" stroke="#1a1a1a" stroke-width="0.28" textLength="6.23" lengthAdjust="spacingAndGlyphs">25</text>
<text x="0" y="0" font-size="6.1" stroke-width="0.15" stroke="#222" fill="#222" text-anchor="middle" textLength="59.2" lengthAdjust="spacingAndGlyphs" transform="translate(199.10,304.80) rotate(-90)">% maximal expression</text>
<text x="235.70" y="386.30" font-size="5.7" text-anchor="middle" fill="#1a1a1a" stroke="#1a1a1a" stroke-width="0.28">10d</text>
<text x="235.70" y="392.20" font-size="5.7" text-anchor="middle" fill="#1a1a1a" stroke="#1a1a1a" stroke-width="0.28">YS</text>
<text x="250.20" y="386.30" font-size="5.7" text-anchor="middle" fill="#1a1a1a" stroke="#1a1a1a" stroke-width="0.28">12d</text>
<text x="250.20" y="392.20" font-size="5.7" text-anchor="middle" fill="#1a1a1a" stroke="#1a1a1a" stroke-width="0.28">YS</text>
<text x="264.00" y="386.30" font-size="5.7" text-anchor="middle" fill="#1a1a1a" stroke="#1a1a1a" stroke-width="0.28">12d</text>
<text x="264.00" y="392.20" font-size="5.7" text-anchor="middle" fill="#1a1a1a" stroke="#1a1a1a" stroke-width="0.28">FL</text>
<text x="278.30" y="386.30" font-size="5.7" text-anchor="middle" fill="#1a1a1a" stroke="#1a1a1a" stroke-width="0.28">14d</text>
<text x="278.30" y="392.20" font-size="5.7" text-anchor="middle" fill="#1a1a1a" stroke="#1a1a1a" stroke-width="0.28">FL</text>
<text x="292.20" y="386.30" font-size="5.7" text-anchor="middle" fill="#1a1a1a" stroke="#1a1a1a" stroke-width="0.28">16d</text>
<text x="292.20" y="392.20" font-size="5.7" text-anchor="middle" fill="#1a1a1a" stroke="#1a1a1a" stroke-width="0.28">FL</text>
<text x="306.10" y="386.30" font-size="5.7" text-anchor="middle" fill="#1a1a1a" stroke="#1a1a1a" stroke-width="0.28">4w</text>
<text x="306.10" y="392.20" font-size="5.7" text-anchor="middle" fill="#1a1a1a" stroke="#1a1a1a" stroke-width="0.28">BL</text>
<line x1="234.50" y1="336.80" x2="249.10" y2="363.70" stroke="#4a4a4a" stroke-width="1.0" stroke-dasharray="1.7,2.5"/>
<line x1="235.00" y1="351.50" x2="248.40" y2="321.80" stroke="#4a4a4a" stroke-width="1.0" stroke-dasharray="1.7,2.5"/>
<line x1="234.70" y1="294.70" x2="249.00" y2="275.10" stroke="#4a4a4a" stroke-width="1.0" stroke-dasharray="1.7,2.5"/>
<line x1="234.60" y1="354.50" x2="249.00" y2="239.80" stroke="#4a4a4a" stroke-width="1.0" stroke-dasharray="1.7,2.5"/>
<polyline points="262.60,345.90 278.00,240.20 291.00,265.50 309.00,369.40" fill="none" stroke="#333" stroke-width="0.7"/>
<polyline points="262.60,322.00 273.00,240.20 291.20,302.10 302.00,370.90" fill="none" stroke="#333" stroke-width="0.7"/>
<polyline points="262.60,318.20 275.50,240.20 291.20,305.60 305.60,370.90" fill="none" stroke="#333" stroke-width="0.7"/>
<polyline points="262.60,333.50 277.20,310.50 291.20,350.30 306.20,377.10" fill="none" stroke="#333" stroke-width="0.7"/>
<circle cx="234.50" cy="336.80" r="2.90" fill="#9a9a9a" stroke="#111" stroke-width="0.75"/>
<circle cx="249.10" cy="363.70" r="2.90" fill="#9a9a9a" stroke="#111" stroke-width="0.75"/>
<circle cx="262.60" cy="345.90" r="2.90" fill="#9a9a9a" stroke="#111" stroke-width="0.75"/>
<circle cx="278.00" cy="240.20" r="2.90" fill="#9a9a9a" stroke="#111" stroke-width="0.75"/>
<circle cx="291.00" cy="265.50" r="2.90" fill="#9a9a9a" stroke="#111" stroke-width="0.75"/>
<circle cx="309.00" cy="369.40" r="2.90" fill="#9a9a9a" stroke="#111" stroke-width="0.75"/>
<circle cx="235.00" cy="351.50" r="2.90" fill="#fff" stroke="#111" stroke-width="0.75"/>
<circle cx="248.40" cy="321.80" r="2.90" fill="#fff" stroke="#111" stroke-width="0.75"/>
<circle cx="262.60" cy="322.00" r="2.90" fill="#fff" stroke="#111" stroke-width="0.75"/>
<circle cx="273.00" cy="240.20" r="2.90" fill="#fff" stroke="#111" stroke-width="0.75"/>
<circle cx="291.20" cy="302.10" r="2.90" fill="#fff" stroke="#111" stroke-width="0.75"/>
<circle cx="302.00" cy="370.90" r="2.90" fill="#fff" stroke="#111" stroke-width="0.75"/>
<circle cx="234.70" cy="294.70" r="2.90" fill="#111" stroke="#111" stroke-width="0.75"/>
<circle cx="249.00" cy="275.10" r="2.90" fill="#111" stroke="#111" stroke-width="0.75"/>
<circle cx="262.60" cy="318.20" r="2.90" fill="#111" stroke="#111" stroke-width="0.75"/>
<circle cx="275.50" cy="240.20" r="2.90" fill="#111" stroke="#111" stroke-width="0.75"/>
<circle cx="291.20" cy="305.60" r="2.90" fill="#111" stroke="#111" stroke-width="0.75"/>
<circle cx="305.60" cy="370.90" r="2.90" fill="#111" stroke="#111" stroke-width="0.75"/>
<circle cx="234.60" cy="354.50" r="2.90" fill="url(#hc)" stroke="#111" stroke-width="0.75"/>
<circle cx="249.00" cy="239.80" r="2.90" fill="url(#hc)" stroke="#111" stroke-width="0.75"/>
<circle cx="262.60" cy="333.50" r="2.90" fill="url(#hc)" stroke="#111" stroke-width="0.75"/>
<circle cx="277.20" cy="310.50" r="2.90" fill="url(#hc)" stroke="#111" stroke-width="0.75"/>
<circle cx="291.20" cy="350.30" r="2.90" fill="url(#hc)" stroke="#111" stroke-width="0.75"/>
<circle cx="306.20" cy="377.10" r="2.90" fill="url(#hc)" stroke="#111" stroke-width="0.75"/>
<rect x="296.70" y="234.10" width="31.10" height="34.10" fill="#fff" stroke="#333" stroke-width="0.8"/>
<circle cx="304.00" cy="240.10" r="2.50" fill="#9a9a9a" stroke="#111" stroke-width="0.75"/>
<text x="310.20" y="242.36" font-size="6.372000000000001" text-anchor="start" fill="#1a1a1a" stroke="#1a1a1a" stroke-width="0.18" textLength="9.84" lengthAdjust="spacingAndGlyphs">150</text>
<circle cx="304.00" cy="247.90" r="2.50" fill="#111" stroke="#111" stroke-width="0.75"/>
<text x="310.20" y="250.16" font-size="6.372000000000001" text-anchor="start" fill="#1a1a1a" stroke="#1a1a1a" stroke-width="0.18" textLength="9.84" lengthAdjust="spacingAndGlyphs">155</text>
<circle cx="304.00" cy="255.50" r="2.50" fill="#fff" stroke="#111" stroke-width="0.75"/>
<text x="310.20" y="257.76" font-size="6.372000000000001" text-anchor="start" fill="#1a1a1a" stroke="#1a1a1a" stroke-width="0.18" textLength="13.12" lengthAdjust="spacingAndGlyphs">2564</text>
<circle cx="304.00" cy="263.50" r="2.50" fill="url(#hc)" stroke="#111" stroke-width="0.75"/>
<text x="310.20" y="265.76" font-size="6.372000000000001" text-anchor="start" fill="#1a1a1a" stroke="#1a1a1a" stroke-width="0.18" textLength="13.12" lengthAdjust="spacingAndGlyphs">2649</text>
<text x="379.40" y="220.80" font-size="10" text-anchor="start" fill="#1a1a1a" stroke="#1a1a1a" stroke-width="0.4" font-weight="bold" textLength="9.00" lengthAdjust="spacingAndGlyphs">F.</text>
<text x="408.20" y="225.30" font-size="7" text-anchor="start" fill="#1a1a1a" stroke="#1a1a1a" stroke-width="0.2" textLength="15.50" lengthAdjust="spacingAndGlyphs">HS3-</text>
<text x="424.40" y="225.30" font-size="7" text-anchor="start" fill="#1a1a1a" stroke="#1a1a1a" stroke-width="0.2" textLength="3.00" lengthAdjust="spacingAndGlyphs">ε</text>
<text x="427.30" y="219.60" font-size="4.8" text-anchor="start" fill="#1a1a1a" stroke="#1a1a1a" stroke-width="0.08" textLength="21.80" lengthAdjust="spacingAndGlyphs">-1086Mut</text>
<text x="448.90" y="225.20" font-size="7" text-anchor="start" fill="#1a1a1a" stroke="#1a1a1a" stroke-width="0.2">γ</text>
<text x="456.90" y="225.40" font-size="7" text-anchor="start" fill="#1a1a1a" stroke="#1a1a1a" stroke-width="0.2" textLength="61.90" lengthAdjust="spacingAndGlyphs">Gamma Expression</text>
<line x1="404.30" y1="236.30" x2="404.30" y2="378.10" stroke="#444" stroke-width="0.9"/>
<line x1="404.30" y1="378.10" x2="498.40" y2="378.10" stroke="#444" stroke-width="0.9"/>
<line x1="400.40" y1="236.30" x2="404.30" y2="236.30" stroke="#444" stroke-width="0.8"/>
<text x="397.10" y="238.68" font-size="6.16" text-anchor="end" fill="#1a1a1a" stroke="#1a1a1a" stroke-width="0.28" textLength="9.34" lengthAdjust="spacingAndGlyphs">100</text>
<line x1="400.40" y1="271.75" x2="404.30" y2="271.75" stroke="#444" stroke-width="0.8"/>
<text x="395.60" y="274.13" font-size="6.16" text-anchor="end" fill="#1a1a1a" stroke="#1a1a1a" stroke-width="0.28" textLength="6.23" lengthAdjust="spacingAndGlyphs">75</text>
<line x1="400.40" y1="307.20" x2="404.30" y2="307.20" stroke="#444" stroke-width="0.8"/>
<text x="395.60" y="309.58" font-size="6.16" text-anchor="end" fill="#1a1a1a" stroke="#1a1a1a" stroke-width="0.28" textLength="6.23" lengthAdjust="spacingAndGlyphs">50</text>
<line x1="400.40" y1="342.65" x2="404.30" y2="342.65" stroke="#444" stroke-width="0.8"/>
<text x="395.60" y="345.03" font-size="6.16" text-anchor="end" fill="#1a1a1a" stroke="#1a1a1a" stroke-width="0.28" textLength="6.23" lengthAdjust="spacingAndGlyphs">25</text>
<text x="0" y="0" font-size="6.1" stroke-width="0.15" stroke="#222" fill="#222" text-anchor="middle" textLength="59.2" lengthAdjust="spacingAndGlyphs" transform="translate(384.10,303.30) rotate(-90)">% maximal expression</text>
<text x="420.40" y="385.30" font-size="5.7" text-anchor="middle" fill="#1a1a1a" stroke="#1a1a1a" stroke-width="0.28">10d</text>
<text x="420.40" y="391.20" font-size="5.7" text-anchor="middle" fill="#1a1a1a" stroke="#1a1a1a" stroke-width="0.28">YS</text>
<text x="434.70" y="385.30" font-size="5.7" text-anchor="middle" fill="#1a1a1a" stroke="#1a1a1a" stroke-width="0.28">12d</text>
<text x="434.70" y="391.20" font-size="5.7" text-anchor="middle" fill="#1a1a1a" stroke="#1a1a1a" stroke-width="0.28">YS</text>
<text x="448.50" y="385.30" font-size="5.7" text-anchor="middle" fill="#1a1a1a" stroke="#1a1a1a" stroke-width="0.28">12d</text>
<text x="448.50" y="391.20" font-size="5.7" text-anchor="middle" fill="#1a1a1a" stroke="#1a1a1a" stroke-width="0.28">FL</text>
<text x="462.40" y="385.30" font-size="5.7" text-anchor="middle" fill="#1a1a1a" stroke="#1a1a1a" stroke-width="0.28">14d</text>
<text x="462.40" y="391.20" font-size="5.7" text-anchor="middle" fill="#1a1a1a" stroke="#1a1a1a" stroke-width="0.28">FL</text>
<text x="476.90" y="385.30" font-size="5.7" text-anchor="middle" fill="#1a1a1a" stroke="#1a1a1a" stroke-width="0.28">16d</text>
<text x="476.90" y="391.20" font-size="5.7" text-anchor="middle" fill="#1a1a1a" stroke="#1a1a1a" stroke-width="0.28">FL</text>
<text x="490.80" y="385.30" font-size="5.7" text-anchor="middle" fill="#1a1a1a" stroke="#1a1a1a" stroke-width="0.28">4w</text>
<text x="490.80" y="391.20" font-size="5.7" text-anchor="middle" fill="#1a1a1a" stroke="#1a1a1a" stroke-width="0.28">BL</text>
<line x1="420.00" y1="271.68" x2="430.40" y2="239.04" stroke="#4a4a4a" stroke-width="1.0" stroke-dasharray="1.7,2.5"/>
<line x1="420.00" y1="315.24" x2="436.80" y2="239.04" stroke="#4a4a4a" stroke-width="1.0" stroke-dasharray="1.7,2.5"/>
<line x1="420.00" y1="274.51" x2="433.70" y2="239.04" stroke="#4a4a4a" stroke-width="1.0" stroke-dasharray="1.7,2.5"/>
<line x1="420.00" y1="302.33" x2="434.70" y2="239.04" stroke="#4a4a4a" stroke-width="1.0" stroke-dasharray="1.7,2.5"/>
<line x1="420.00" y1="304.31" x2="439.20" y2="239.04" stroke="#4a4a4a" stroke-width="1.0" stroke-dasharray="1.7,2.5"/>
<polyline points="448.00,330.00 461.30,308.99 477.00,345.46 488.00,375.69" fill="none" stroke="#333" stroke-width="0.7"/>
<polyline points="448.00,336.24 463.80,323.89 477.00,349.72 491.00,376.40" fill="none" stroke="#333" stroke-width="0.7"/>
<polyline points="447.50,351.85 460.80,344.61 477.00,375.69 488.00,302.18" fill="none" stroke="#111" stroke-width="1.35"/>
<polyline points="448.00,330.00 462.70,352.42 477.30,361.50 492.00,301.47" fill="none" stroke="#111" stroke-width="1.35"/>
<polyline points="448.00,334.11 463.80,323.89 476.20,267.13 491.60,258.62" fill="none" stroke="#111" stroke-width="1.35"/>
<polygon points="420.00,268.73 423.20,274.62 416.80,274.62" fill="url(#ht)" stroke="#111" stroke-width="0.75" stroke-linejoin="miter"/>
<polygon points="430.40,236.09 433.60,241.98 427.20,241.98" fill="url(#ht)" stroke="#111" stroke-width="0.75" stroke-linejoin="miter"/>
<polygon points="448.00,327.05 451.20,332.94 444.80,332.94" fill="url(#ht)" stroke="#111" stroke-width="0.75" stroke-linejoin="miter"/>
<polygon points="461.30,306.05 464.50,311.94 458.10,311.94" fill="url(#ht)" stroke="#111" stroke-width="0.75" stroke-linejoin="miter"/>
<polygon points="477.00,342.52 480.20,348.41 473.80,348.41" fill="url(#ht)" stroke="#111" stroke-width="0.75" stroke-linejoin="miter"/>
<polygon points="488.00,372.74 491.20,378.63 484.80,378.63" fill="url(#ht)" stroke="#111" stroke-width="0.75" stroke-linejoin="miter"/>
<polygon points="420.00,312.29 423.20,318.18 416.80,318.18" fill="url(#ht2)" stroke="#111" stroke-width="0.75" stroke-linejoin="miter"/>
<polygon points="436.80,236.09 440.00,241.98 433.60,241.98" fill="url(#ht2)" stroke="#111" stroke-width="0.75" stroke-linejoin="miter"/>
<polygon points="448.00,333.30 451.20,339.18 444.80,339.18" fill="url(#ht2)" stroke="#111" stroke-width="0.75" stroke-linejoin="miter"/>
<polygon points="463.80,320.95 467.00,326.84 460.60,326.84" fill="url(#ht2)" stroke="#111" stroke-width="0.75" stroke-linejoin="miter"/>
<polygon points="477.00,346.78 480.20,352.66 473.80,352.66" fill="url(#ht2)" stroke="#111" stroke-width="0.75" stroke-linejoin="miter"/>
<polygon points="491.00,373.45 494.20,379.34 487.80,379.34" fill="url(#ht2)" stroke="#111" stroke-width="0.75" stroke-linejoin="miter"/>
<polygon points="420.00,271.57 423.20,277.46 416.80,277.46" fill="#fff" stroke="#111" stroke-width="0.75" stroke-linejoin="miter"/>
<polygon points="433.70,236.09 436.90,241.98 430.50,241.98" fill="#fff" stroke="#111" stroke-width="0.75" stroke-linejoin="miter"/>
<polygon points="447.50,348.90 450.70,354.79 444.30,354.79" fill="#fff" stroke="#111" stroke-width="0.75" stroke-linejoin="miter"/>
<polygon points="460.80,341.67 464.00,347.56 457.60,347.56" fill="url(#ht)" stroke="#111" stroke-width="0.75" stroke-linejoin="miter"/>
<polygon points="477.00,372.74 480.20,378.63 473.80,378.63" fill="#fff" stroke="#111" stroke-width="0.75" stroke-linejoin="miter"/>
<polygon points="488.00,299.24 491.20,305.13 484.80,305.13" fill="#fff" stroke="#111" stroke-width="0.75" stroke-linejoin="miter"/>
<polygon points="420.00,299.38 423.20,305.27 416.80,305.27" fill="#111" stroke="#111" stroke-width="0.75" stroke-linejoin="miter"/>
<polygon points="434.70,236.09 437.90,241.98 431.50,241.98" fill="#111" stroke="#111" stroke-width="0.75" stroke-linejoin="miter"/>
<polygon points="448.00,327.05 451.20,332.94 444.80,332.94" fill="url(#ht)" stroke="#111" stroke-width="0.75" stroke-linejoin="miter"/>
<polygon points="462.70,349.47 465.90,355.36 459.50,355.36" fill="#111" stroke="#111" stroke-width="0.75" stroke-linejoin="miter"/>
<polygon points="477.30,358.55 480.50,364.44 474.10,364.44" fill="#111" stroke="#111" stroke-width="0.75" stroke-linejoin="miter"/>
<polygon points="492.00,298.53 495.20,304.42 488.80,304.42" fill="#111" stroke="#111" stroke-width="0.75" stroke-linejoin="miter"/>
<polygon points="420.00,301.37 423.20,307.26 416.80,307.26" fill="#fff" stroke="#111" stroke-width="0.75" stroke-linejoin="miter"/>
<polygon points="439.20,236.09 442.40,241.98 436.00,241.98" fill="#fff" stroke="#111" stroke-width="0.75" stroke-linejoin="miter"/>
<polygon points="448.00,331.17 451.20,337.06 444.80,337.06" fill="#fff" stroke="#111" stroke-width="0.75" stroke-linejoin="miter"/>
<polygon points="463.80,320.95 467.00,326.84 460.60,326.84" fill="#fff" stroke="#111" stroke-width="0.75" stroke-linejoin="miter"/>
<polygon points="476.20,264.19 479.40,270.08 473.00,270.08" fill="#fff" stroke="#111" stroke-width="0.75" stroke-linejoin="miter"/>
<polygon points="491.60,255.68 494.80,261.56 488.40,261.56" fill="#fff" stroke="#111" stroke-width="0.75" stroke-linejoin="miter"/>
<rect x="447.40" y="235.40" width="20.40" height="36.40" fill="#fff" stroke="#333" stroke-width="0.8"/>
<polygon points="452.80,237.91 455.40,242.69 450.20,242.69" fill="#fff" stroke="#111" stroke-width="0.75" stroke-linejoin="miter"/>
<text x="456.10" y="241.83" font-size="4.32" text-anchor="start" fill="#1a1a1a" stroke="#1a1a1a" stroke-width="0.12" textLength="8.90" lengthAdjust="spacingAndGlyphs">4403</text>
<polygon points="452.80,244.61 455.40,249.39 450.20,249.39" fill="#b0b0b0" stroke="#111" stroke-width="0.75" stroke-linejoin="miter"/>
<text x="456.10" y="248.53" font-size="4.32" text-anchor="start" fill="#1a1a1a" stroke="#1a1a1a" stroke-width="0.12" textLength="8.90" lengthAdjust="spacingAndGlyphs">4456</text>
<polygon points="452.80,251.21 455.40,255.99 450.20,255.99" fill="#111" stroke="#111" stroke-width="0.75" stroke-linejoin="miter"/>
<text x="456.10" y="255.13" font-size="4.32" text-anchor="start" fill="#1a1a1a" stroke="#1a1a1a" stroke-width="0.12" textLength="8.90" lengthAdjust="spacingAndGlyphs">4485</text>
<polygon points="452.80,258.11 455.40,262.89 450.20,262.89" fill="url(#ht)" stroke="#111" stroke-width="0.75" stroke-linejoin="miter"/>
<text x="456.10" y="262.03" font-size="4.32" text-anchor="start" fill="#1a1a1a" stroke="#1a1a1a" stroke-width="0.12" textLength="8.90" lengthAdjust="spacingAndGlyphs">4463</text>
<polygon points="452.80,265.61 455.40,270.39 450.20,270.39" fill="url(#ht2)" stroke="#111" stroke-width="0.75" stroke-linejoin="miter"/>
<text x="456.10" y="269.53" font-size="4.32" text-anchor="start" fill="#1a1a1a" stroke="#1a1a1a" stroke-width="0.12" textLength="8.90" lengthAdjust="spacingAndGlyphs">4491</text>
</svg>
</body></html>
